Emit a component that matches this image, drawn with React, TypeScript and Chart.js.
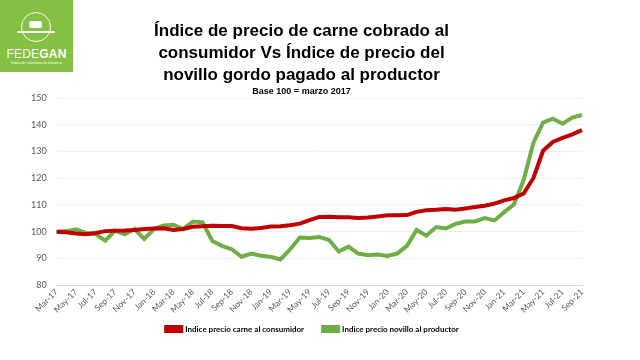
import React, { useEffect, useRef } from "react";
import { Chart, registerables } from "chart.js";

Chart.register(...registerables);

const months = [
  "Mar-17","Apr-17","May-17","Jun-17","Jul-17","Aug-17","Sep-17","Oct-17","Nov-17","Dec-17",
  "Jan-18","Feb-18","Mar-18","Apr-18","May-18","Jun-18","Jul-18","Aug-18","Sep-18","Oct-18","Nov-18","Dec-18",
  "Jan-19","Feb-19","Mar-19","Apr-19","May-19","Jun-19","Jul-19","Aug-19","Sep-19","Oct-19","Nov-19","Dec-19",
  "Jan-20","Feb-20","Mar-20","Apr-20","May-20","Jun-20","Jul-20","Aug-20","Sep-20","Oct-20","Nov-20","Dec-20",
  "Jan-21","Feb-21","Mar-21","Apr-21","May-21","Jun-21","Jul-21","Aug-21","Sep-21",
];

const consumidor = [
  100, 99.8, 99.3, 99.0, 99.5, 100.2, 100.3, 100.4, 100.6, 101.0,
  101.2, 101.3, 100.6, 101.0, 101.8, 102.0, 102.2, 102.1, 102.1, 101.3,
  101.1, 101.4, 101.9, 102.0, 102.4, 103.0, 104.3, 105.5, 105.6, 105.4,
  105.4, 105.1, 105.3, 105.7, 106.1, 106.1, 106.2, 107.4, 108.0, 108.2,
  108.5, 108.2, 108.7, 109.2, 109.7, 110.5, 111.7, 112.6, 114.3, 120.0,
  130.3, 133.6, 135.1, 136.4, 138.0,
];

const productor = [
  100, 100.2, 100.9, 99.5, 99.1, 96.6, 100.4, 99.0, 101.0, 97.3,
  101.0, 102.3, 102.6, 101.0, 103.8, 103.5, 96.5, 94.7, 93.4, 90.6,
  91.8, 91.0, 90.6, 89.6, 93.4, 97.8, 97.6, 98.0, 96.9, 92.6,
  94.4, 91.8, 91.2, 91.4, 90.9, 91.8, 94.7, 100.6, 98.5, 101.7,
  101.2, 102.9, 103.8, 103.8, 105.1, 104.2, 107.3, 110.2, 119.3, 133.2,
  140.8, 142.3, 140.4, 142.7, 143.7,
];

const seriesNames = ["Indice precio carne al consumidor", "Indice precio novillo al productor"];
const titleLines = [
  "Índice de precio de carne cobrado al",
  "consumidor Vs Índice de precio del",
  "novillo gordo pagado al productor",
];
const subtitleText = "Base 100 = marzo 2017";

function Logo() {
  return (
    <div
      style={{
        position: "absolute",
        left: 0,
        top: 0,
        width: 73,
        height: 72,
        background: "#84c041",
        fontFamily: "'Liberation Sans', Arial, sans-serif",
        color: "#fff",
        overflow: "hidden",
      }}
    >
      <div
        style={{
          position: "absolute",
          left: 21,
          top: 12,
          width: 30,
          height: 30,
          borderRadius: "50%",
          border: "1.5px solid #fff",
          boxSizing: "border-box",
        }}
      />
      <div
        style={{
          position: "absolute",
          left: 29,
          top: 21,
          width: 13,
          height: 7,
          background: "#fff",
          borderRadius: 2,
        }}
      />
      <div
        style={{
          position: "absolute",
          left: 17,
          top: 31,
          width: 38,
          height: 2,
          background: "#fff",
          borderRadius: 1,
        }}
      />
      <div
        style={{
          position: "absolute",
          left: 0,
          top: 47,
          width: 73,
          textAlign: "center",
          fontSize: 12,
          letterSpacing: 0.2,
          lineHeight: "14px",
        }}
      >
        <span style={{ fontWeight: 300 }}>FEDE</span>
        <span style={{ fontWeight: 700 }}>GAN</span>
      </div>
      <div
        style={{
          position: "absolute",
          left: 0,
          top: 61,
          width: 73,
          textAlign: "center",
          fontSize: 3,
          lineHeight: "4px",
        }}
      >
        Federación Colombiana de Ganaderos
      </div>
    </div>
  );
}

const legendShift = {
  id: "legendShift",
  afterLayout(chart: any) {
    const l = chart.legend;
    if (!l) return;
    l.top -= 11;
    l.bottom -= 11;
    l.left += 11;
    l.right += 11;
  },
};

export default function App() {
  const canvasRef = useRef<HTMLCanvasElement | null>(null);

  useEffect(() => {
    if (!canvasRef.current) return;
    const chart = new Chart(canvasRef.current, {
      type: "line",
      data: {
        labels: months,
        datasets: [
          {
            label: seriesNames[0],
            data: consumidor,
            borderColor: "#c00000",
            backgroundColor: "#c00000",
            borderWidth: 4,
            pointRadius: 0,
            tension: 0,
          },
          {
            label: seriesNames[1],
            data: productor,
            borderColor: "#70ad47",
            backgroundColor: "#70ad47",
            borderWidth: 4,
            pointRadius: 0,
            tension: 0,
          },
        ],
      },
      plugins: [legendShift],
      options: {
        animation: false,
        responsive: true,
        maintainAspectRatio: false,
        layout: { padding: { left: 21, right: 58, top: 15, bottom: 6 } },
        plugins: {
          title: {
            display: true,
            text: titleLines,
            color: "#000",
            font: { family: "'Liberation Sans', Arial, sans-serif", size: 17, weight: "bold", lineHeight: 1.3 },
            padding: { top: 5, bottom: 0 },
          },
          subtitle: {
            display: true,
            text: subtitleText,
            color: "#000",
            font: { family: "'Liberation Sans', Arial, sans-serif", size: 9, weight: "bold", lineHeight: 1.2 },
            padding: { top: 0, bottom: 1 },
          },
          legend: {
            display: true,
            position: "bottom",
            labels: {
              boxWidth: 15,
              boxHeight: 4,
              padding: 19,
              color: "#000",
              font: { family: "Lato, 'Liberation Sans', sans-serif", size: 8, weight: "bold" },
            },
          },
          tooltip: { enabled: false },
        },
        scales: {
          x: {
            grid: { display: false, drawTicks: false },
            border: { display: true, color: "#d9d9d9", width: 1 },
            ticks: {
              autoSkip: false,
              minRotation: 45,
              maxRotation: 45,
              padding: 2,
              color: "#595959",
              font: { family: "Lato, 'Liberation Sans', sans-serif", size: 8.5 },
              callback: (_v: any, i: number) => (i % 2 === 0 ? months[i] : ""),
            },
          },
          y: {
            min: 80,
            max: 150,
            grid: { color: "#eeeeee", drawTicks: false },
            border: { display: false },
            ticks: {
              stepSize: 10,
              padding: 10,
              color: "#595959",
              font: { family: "Lato, 'Liberation Sans', sans-serif", size: 9 },
            },
          },
        },
      },
    });
    return () => chart.destroy();
  }, []);

  return (
    <div style={{ position: "absolute", left: 0, top: 0, width: 640, height: 360, background: "#fff" }}>
      <canvas ref={canvasRef} />
      <Logo />
    </div>
  );
}
